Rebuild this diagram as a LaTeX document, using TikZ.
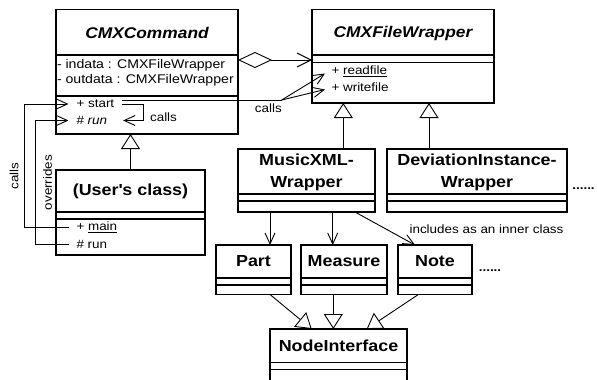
\documentclass[tikz,border=0pt]{standalone}
\usepackage{fontspec}
\setmainfont{Liberation Sans}[FakeStretch=1.12]
\usetikzlibrary{arrows.meta}
\tikzset{
  box/.style={draw, line width=1.1pt, inner sep=0pt, outer sep=0pt, anchor=north west},
  divl/.style={line width=1.1pt},
  txt/.style={inner sep=0pt, outer sep=0pt, anchor=west, font=\fontsize{12}{14}\selectfont},
  attr/.style={txt, font=\fontsize{12.6}{14}\selectfont},
  lbl/.style={inner sep=0pt, outer sep=0pt, font=\fontsize{12}{14}\selectfont},
  cname/.style={inner sep=0pt, align=center, font=\fontsize{16}{21.6}\selectfont\bfseries},
  aname/.style={inner sep=0pt, font=\fontsize{15.5}{18}\selectfont\bfseries\itshape},
  dotsl/.style={inner sep=0pt, font=\fontsize{12}{14}\selectfont\bfseries},
  conn/.style={line width=0.9pt},
  barb/.style={conn, -{Straight Barb[length=11pt,width=10pt]}},
  inherit/.style={conn, -{Triangle[open,length=15pt,width=19pt]}},
  agg/.style={conn, {Diamond[open,length=34pt,width=16pt]}-{Straight Barb[length=14pt,width=14pt]}},
}
\newcommand\umlcls[7]{%
  \node[box, minimum width=#4pt, minimum height=#5pt] (#1) at (#2,#3) {};
  \draw[divl] (#1.west |- 0,#6) -- (#1.east |- 0,#6);
  \draw[divl] (#1.west |- 0,#7) -- (#1.east |- 0,#7);
}
\begin{document}
\begin{tikzpicture}[x=1pt,y=-1pt]
\clip (0,0) rectangle (597,380);
\fill[white] (0,0) rectangle (597,380);
% classes
\umlcls{cmd}{56}{9.5}{182}{124.5}{55}{96}
\umlcls{fw}{312}{9.5}{182}{93.5}{55}{62.5}
\umlcls{mx}{238}{149}{137}{63}{194}{201}
\umlcls{dev}{387}{149}{180}{63}{194}{201}
\umlcls{user}{56}{170}{149}{85}{212}{219}
\umlcls{part}{216}{245}{75}{49.5}{278}{285}
\umlcls{meas}{301}{245}{86}{49.5}{278}{285}
\umlcls{note}{398}{245}{74}{49.5}{278}{285}
\umlcls{ni}{270}{329}{137}{91}{362.5}{369.5}
% names
\node[aname] (cmdn) at (147,32.5) {CMXCommand};
\node[aname] (fwn) at (403,33) {CMXFileWrapper};
\node[cname] (mxn) at (306.5,172.5) {MusicXML-\\Wrapper};
\node[cname] (devn) at (477,172.5) {DeviationInstance-\\Wrapper};
\node[cname] (usern) at (130.5,191.5) {(User\textquotesingle s class)};
\node[cname] (partn) at (253.5,261.5) {Part};
\node[cname] (measn) at (344,261.5) {Measure};
\node[cname] (noten) at (435,261.5) {Note};
\node[cname] (nin) at (338.5,346) {NodeInterface};
% members
\node[attr] (indata) at (57,65) {- indata : CMXFileWrapper};
\node[attr] (outdata) at (57,80.5) {- outdata : CMXFileWrapper};
\node[txt] (start) at (76.5,104) {+ start};
\node[txt] (runa) at (76.5,120.5) {\# \textit{run}};
\node[txt] (readf) at (331.5,71.5) {+ \underline{readfile}};
\node[txt] (writef) at (331.5,87.5) {+ writefile};
\node[txt] (main) at (76.5,227.5) {+ \underline{main}};
\node[txt] (runb) at (76.5,244) {\# run};
% dots
\node[dotsl] (dots1) at (583.5,189) {......};
\node[dotsl] (dots2) at (490,271) {......};
% aggregation
\draw[agg] (cmd.east |- 0,60) -- (fw.west |- 0,60);
% calls to file wrapper
\coordinate (cj) at (281.7,100);
\draw[conn] ([xshift=7.5pt,yshift=4pt]start.east) -- (cj);
\draw[barb] (cj) -- ([xshift=-6.5pt,yshift=-2pt]readf.west);
\draw[barb] (cj) -- ([xshift=-6.5pt,yshift=-2pt]writef.west);
\node[lbl] (callsb) at (268.3,108.7) {calls};
% self loop
\draw[barb] ([xshift=7.5pt]start.east) -- (143,0 |- start.east) |- ([xshift=16pt]runa.east);
\node[lbl] (callsa) at (163.5,117) {calls};
% left connectors
\draw[barb] ([xshift=-8pt]main.west) -- (24,0 |- main.west) |- ([xshift=-8pt]start.west);
\draw[barb] ([xshift=-8pt]runb.west) -- (35,0 |- runb.west) |- ([xshift=-8pt]runa.west);
\node[lbl, rotate=90] (callsc) at (14,176) {calls};
\node[lbl, rotate=90] (overr) at (47.5,182.5) {overrides};
% inheritance
\draw[inherit] (user.north) -- (user.north |- cmd.south);
\draw[inherit] (343.3,0 |- mx.north) -- (343.3,0 |- fw.south);
\draw[inherit] (429,0 |- dev.north) -- (429,0 |- fw.south);
\draw[inherit] (270,0 |- part.south) -- (311.7,0 |- ni.north);
\draw[inherit] (333.3,0 |- meas.south) -- (333.3,0 |- ni.north);
\draw[inherit] (418.3,0 |- note.south) -- (366.7,0 |- ni.north);
% navigation
\draw[barb] (270,0 |- mx.south) -- (270,0 |- part.north);
\draw[barb] (332.7,0 |- mx.south) -- (332.7,0 |- meas.north);
\draw[barb] (355,0 |- mx.south) -- (415,0 |- note.north);
\node[lbl] (incl) at (486.5,229) {includes as an inner class};
\end{tikzpicture}
\end{document}
